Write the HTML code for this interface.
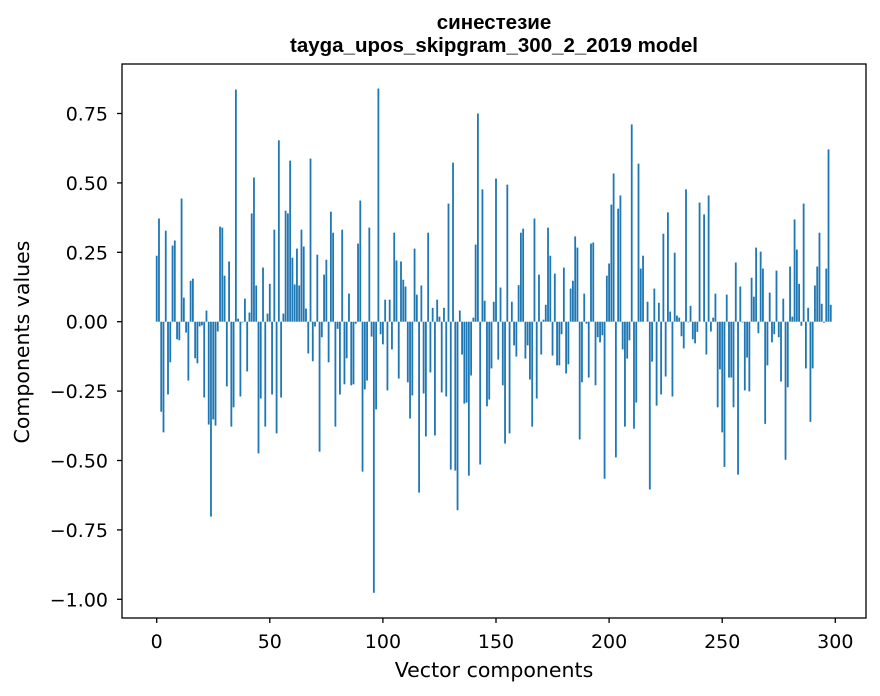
<!DOCTYPE html>
<html><head><meta charset="utf-8"><style>
html,body{margin:0;padding:0;background:#fff;}
svg{display:block;font-family:"DejaVu Sans",sans-serif;}
</style></head><body>
<svg id="s" width="880" height="696" viewBox="0 0 880 696" xmlns="http://www.w3.org/2000/svg">
<rect width="880" height="696" fill="#fff"/>
<g id="bars" fill="#1f77b4"></g>
<rect x="122" y="64" width="744" height="554" fill="none" stroke="#000" stroke-width="1.3"/>
<g id="ticks" stroke="#000" stroke-width="1.3"></g>
<g id="labels" font-size="19" fill="#000"></g>
<g font-family="Liberation Sans, sans-serif" font-weight="bold" font-size="20.5" text-anchor="middle">
<text x="494" y="29">синестезие</text>
<text x="494" y="52">tayga_upos_skipgram_300_2_2019 model</text>
</g>
<text x="494" y="677" text-anchor="middle" font-size="20.5">Vector components</text>
<text transform="translate(29,342) rotate(-90)" text-anchor="middle" font-size="20.5">Components values</text>
</svg>
<script>
var zy=[521,411,982,1043,447,931,836,491,476,768,771,352,645,748,890,595,589,824,839,730,727,940,683,1020,1292,1005,1023,745,435,438,580,907,538,1026,969,30,707,937,718,648,863,689,396,290,609,1105,943,556,1026,692,604,931,444,1046,180,940,692,388,396,240,527,606,500,609,444,494,677,810,234,833,730,518,1100,762,577,
533,836,391,453,1026,737,931,444,901,824,633,904,901,722,485,358,1159,916,890,438,760,1517,975,27,753,783,651,919,651,798,453,535,884,538,592,612,895,1002,934,500,636,1221,609,928,1055,453,866,675,1052,651,701,925,675,937,367,1153,246,1156,1273,683,813,958,955,1171,875,704,488,101,1138,325,654,966,946,854,657,
293,828,615,904,1076,311,1046,657,786,819,608,453,441,825,786,887,1026,411,943,577,813,710,666,438,521,816,574,845,845,753,556,869,842,618,595,464,497,1064,895,633,722,881,485,482,904,762,777,756,1180,580,544,370,278,1117,382,343,798,1026,825,771,133,1032,955,249,559,521,716,657,1212,834,618,964,660,931,456,
878,393,686,937,512,698,704,759,795,325,718,669,768,780,746,364,716,399,813,343,745,704,633,969,857,1043,1145,636,881,881,969,541,1168,612,718,919,822,922,586,642,497,750,509,559,1018,845,630,777,753,565,762,893,648,1124,910,553,701,414,503,604,728,367,854,675,1012,854,609,553,453,663,719,559,207,666,716];
var y0=321.7,sc=2.955,ns="http://www.w3.org/2000/svg";
var g=document.getElementById('bars');
for(var i=0;i<zy.length;i++){
 var h=(716-zy[i])/sc; if(Math.abs(h)<0.3)continue;
 var x=156.7+2.262*i-0.905;
 var r=document.createElementNS(ns,'rect');
 r.setAttribute('x',x.toFixed(2));r.setAttribute('width','1.81');
 if(h>0){r.setAttribute('y',(y0-h).toFixed(2));r.setAttribute('height',h.toFixed(2));}
 else{r.setAttribute('y',y0.toFixed(2));r.setAttribute('height',(-h).toFixed(2));}
 g.appendChild(r);
}
var t=document.getElementById('ticks'),L=document.getElementById('labels');
function ln(x1,y1,x2,y2){var l=document.createElementNS(ns,'line');l.setAttribute('x1',x1);l.setAttribute('y1',y1);l.setAttribute('x2',x2);l.setAttribute('y2',y2);t.appendChild(l);}
function tx(x,y,s,a){var e=document.createElementNS(ns,'text');e.setAttribute('x',x);e.setAttribute('y',y);e.setAttribute('text-anchor',a);e.textContent=s;L.appendChild(e);}
for(var k=0;k<=6;k++){var x=156.7+k*50*2.262;ln(x,618,x,623);tx(x,648,String(k*50),'middle');}
var yl=['0.75','0.50','0.25','0.00','\u22120.25','\u22120.50','\u22120.75','\u22121.00'];
for(var k=0;k<8;k++){var v=0.75-0.25*k;var y=y0-v*277.6;ln(117,y,122,y);tx(108,y+7,yl[k],'end');}
</script>
</body></html>
